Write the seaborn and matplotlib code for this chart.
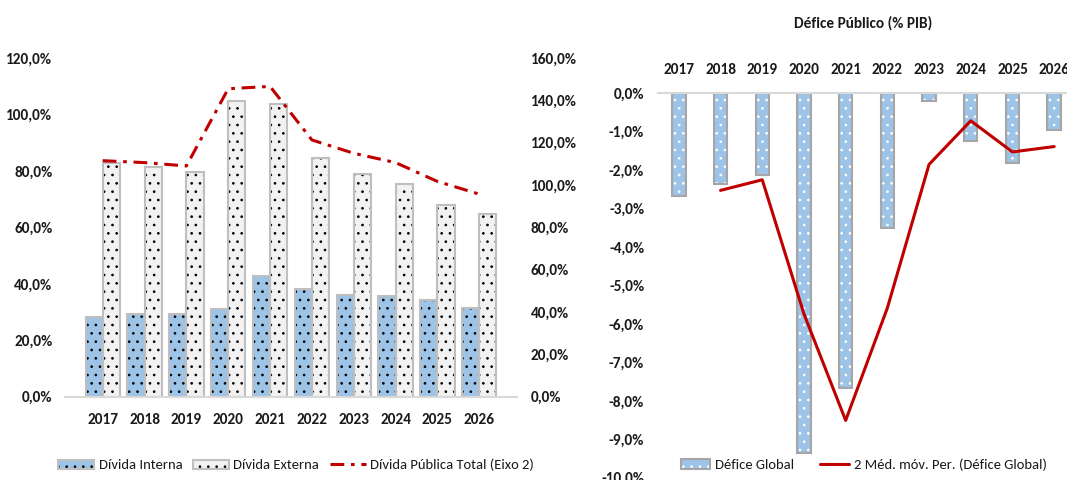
import numpy as np
import pandas as pd
import matplotlib.pyplot as plt
import seaborn as sns
from matplotlib import font_manager
from matplotlib.patches import Patch
from matplotlib.lines import Line2D
from matplotlib.ticker import FuncFormatter

# dados (% do PIB)
anos = ["2017", "2018", "2019", "2020", "2021", "2022", "2023", "2024", "2025", "2026"]
divida_interna = [28.4, 29.3, 29.3, 31.0, 42.7, 38.0, 36.2, 35.7, 34.2, 31.5]
divida_externa = [82.8, 81.3, 79.6, 104.7, 103.7, 84.6, 79.0, 75.3, 67.9, 64.7]
divida_total = [111.5, 110.6, 109.0, 145.5, 146.6, 121.3, 115.0, 110.6, 101.7, 95.7]
defice_global = [-2.68, -2.37, -2.13, -9.35, -7.67, -3.50, -0.20, -1.23, -1.82, -0.95]

AZUL = "#9DC3E6"
CINZA_CLARO = "#F2F2F2"
BORDA = "#BFBFBF"
VERMELHO = "#C00000"
TEXTO = "#1a1a1a"


def primeira_fonte(nomes):
    for nome in nomes:
        try:
            font_manager.findfont(nome, fallback_to_default=False)
            return nome
        except ValueError:
            pass
    return "DejaVu Sans"


fonte = primeira_fonte(["Carlito", "Liberation Sans Narrow", "Lato", "Liberation Sans"])

sns.set_theme(style="white")
plt.rcParams["font.family"] = [fonte, "DejaVu Sans"]
plt.rcParams["hatch.linewidth"] = 0.7

pct = FuncFormatter(lambda v, p: f"{v:.1f}%".replace(".", ","))

divida = pd.DataFrame({
    "ano": anos * 2,
    "valor": divida_interna + divida_externa,
    "serie": ["Dívida Interna"] * len(anos) + ["Dívida Externa"] * len(anos),
})
defice = pd.DataFrame({"ano": anos, "defice": defice_global})
defice["media_movel"] = defice["defice"].rolling(2).mean()
pos = np.arange(len(anos))

fig = plt.figure(figsize=(10.67, 4.8), dpi=100)

# --- Gráfico 1: dívida pública ---
ax1 = fig.add_axes([0.0609, 0.1735, 0.4236, 0.7056])
cores = {"Dívida Interna": AZUL, "Dívida Externa": CINZA_CLARO}
sns.barplot(data=divida, x="ano", y="valor", hue="serie", palette=cores,
            saturation=1, width=0.82, gap=0, edgecolor="black", linewidth=0,
            hatch="..", legend=False, ax=ax1)
n_barras = len(ax1.patches)
sns.barplot(data=divida, x="ano", y="valor", hue="serie", palette=cores,
            width=0.82, gap=0, fill=False, edgecolor=BORDA, linewidth=1.5,
            legend=False, ax=ax1)
for p in ax1.patches[:n_barras]:
    p.set_edgecolor("black")
    p.set_linewidth(0)
for p in ax1.patches[n_barras:]:
    p.set_edgecolor(BORDA)
ax1.set_ylim(0, 120)
ax1.set_yticks(np.arange(0, 121, 20))
ax1.yaxis.set_major_formatter(pct)
ax1.set_xlabel("")
ax1.set_ylabel("")
for s in ["top", "right", "left"]:
    ax1.spines[s].set_visible(False)
ax1.spines["bottom"].set_color("#D9D9D9")
ax1.spines["bottom"].set_linewidth(1.5)
ax1.tick_params(axis="y", length=0, pad=9, labelsize=11, labelcolor=TEXTO)
ax1.tick_params(axis="x", length=0, pad=12, labelsize=11, labelcolor=TEXTO)

ax1b = ax1.twinx()
sns.lineplot(x=pos, y=divida_total, color=VERMELHO, linewidth=2.2,
             linestyle=(0, (4.5, 2.2, 1.2, 2.2)), legend=False, ax=ax1b)
ax1b.set_ylim(0, 160)
ax1b.set_yticks(np.arange(0, 161, 20))
ax1b.yaxis.set_major_formatter(pct)
for s in ["top", "right", "left", "bottom"]:
    ax1b.spines[s].set_visible(False)
ax1b.tick_params(axis="y", length=0, pad=10, labelsize=11, labelcolor=TEXTO)
for lab in ax1.get_xticklabels() + ax1.get_yticklabels() + ax1b.get_yticklabels():
    lab.set_fontweight("bold")

h_int = (Patch(facecolor=AZUL, edgecolor="black", linewidth=0, hatch=".."),
         Patch(fill=False, edgecolor=BORDA, linewidth=1.5))
h_ext = (Patch(facecolor=CINZA_CLARO, edgecolor="black", linewidth=0, hatch=".."),
         Patch(fill=False, edgecolor=BORDA, linewidth=1.5))
h_tot = Line2D([], [], color=VERMELHO, linewidth=2.2, linestyle=(0, (4.5, 2.2, 1.2, 2.2)))
fig.legend([h_int, h_ext, h_tot],
           ["Dívida Interna", "Dívida Externa", "Dívida Pública Total (Eixo 2)"],
           loc="center", bbox_to_anchor=(296 / 1067, 1 - 465 / 480), ncol=3,
           frameon=False, fontsize=10.5, handlelength=2.5, handleheight=0.6,
           columnspacing=0.7, handletextpad=0.3, labelcolor=TEXTO)

# --- Gráfico 2: défice público ---
ax2 = fig.add_axes([0.6167, 0.0048, 0.3908, 0.8008])
sns.barplot(data=defice, x="ano", y="defice", color=AZUL, saturation=1,
            width=0.32, edgecolor="white", linewidth=0, hatch="..", ax=ax2)
n_def = len(ax2.patches)
sns.barplot(data=defice, x="ano", y="defice", width=0.32, fill=False,
            edgecolor="#A6A6A6", linewidth=1.5, ax=ax2)
for p in ax2.patches[n_def:]:
    p.set_edgecolor("#A6A6A6")
sns.lineplot(x=pos, y=defice["media_movel"], color=VERMELHO, linewidth=2.2,
             legend=False, ax=ax2)
ax2.set_ylim(-10, 0)
ax2.set_xlim(-0.5, len(anos) - 0.5)
ax2.set_yticks(np.arange(-10, 0.5, 1))
ax2.yaxis.set_major_formatter(pct)
ax2.xaxis.tick_top()
ax2.set_xlabel("")
ax2.set_ylabel("")
for s in ["bottom", "right", "left"]:
    ax2.spines[s].set_visible(False)
ax2.spines["top"].set_color("#D9D9D9")
ax2.spines["top"].set_linewidth(1.5)
ax2.tick_params(axis="y", length=0, pad=10, labelsize=11, labelcolor=TEXTO)
ax2.tick_params(axis="x", length=0, pad=12, labelsize=11, labelcolor=TEXTO)
for lab in ax2.get_xticklabels() + ax2.get_yticklabels():
    lab.set_fontweight("bold")

fig.text(863 / 1067, 1 - 23 / 480, "Défice Público (% PIB)", ha="center", va="center",
         fontsize=11, fontweight="bold", color=TEXTO)

h_def = (Patch(facecolor=AZUL, edgecolor="white", linewidth=0, hatch=".."),
         Patch(fill=False, edgecolor="#A6A6A6", linewidth=1.5))
h_mm = Line2D([], [], color=VERMELHO, linewidth=2.2)
fig.legend([h_def, h_mm], ["Défice Global", "2 Méd. móv. Per. (Défice Global)"],
           loc="center", bbox_to_anchor=(864 / 1067, 1 - 465 / 480), ncol=2,
           frameon=False, fontsize=10.5, handlelength=2.0, handleheight=0.7,
           columnspacing=1.8, handletextpad=0.3, labelcolor=TEXTO)

fig.savefig("out.png", dpi=100)
